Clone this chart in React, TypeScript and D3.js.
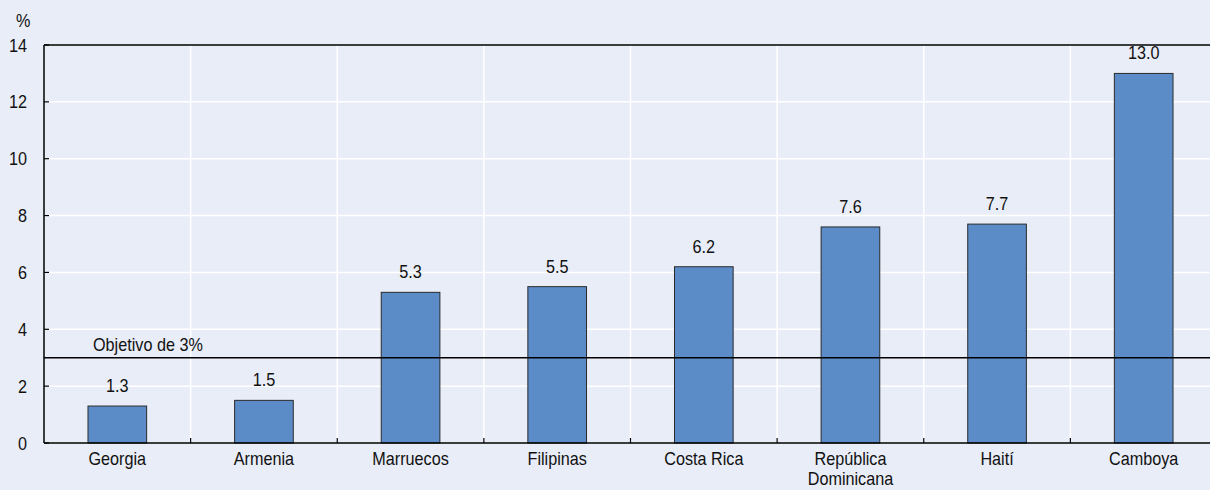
import * as d3 from "d3";
import React, { useRef, useEffect } from "react";

const categories = ["Georgia", "Armenia", "Marruecos", "Filipinas", "Costa Rica", "República\nDominicana", "Haití", "Camboya"];
const values = [1.3, 1.5, 5.3, 5.5, 6.2, 7.6, 7.7, 13.0];
const yTicks = [0, 2, 4, 6, 8, 10, 12, 14];
const target = 3;
const targetLabel = "Objetivo de 3%";

const width = 1210;
const height = 490;
// plot runs a little past the right edge of the picture
const margin = { top: 45, right: -7, bottom: 47, left: 44 };
const font = "'Liberation Sans', Arial, sans-serif";
const fontSize = 18;
const squeeze = 0.9; // reference uses a condensed face

function App() {
  const ref = useRef<SVGSVGElement>(null);

  useEffect(() => {
    const svg = d3.select(ref.current);
    svg.selectAll("*").remove();
    const innerW = width - margin.left - margin.right;
    const innerH = height - margin.top - margin.bottom;

    // condensed text helper
    const label = (sel: any, x: number, y: number, txt: string, anchor = "middle") =>
      sel
        .append("text")
        .attr("transform", `translate(${x},${y}) scale(${squeeze},1)`)
        .attr("text-anchor", anchor)
        .attr("font-family", font)
        .attr("font-size", fontSize)
        .attr("fill", "#111")
        .text(txt);

    svg.append("rect").attr("width", width).attr("height", height).attr("fill", "#E9EDF7");

    const x = d3.scaleBand().domain(categories).range([0, innerW]);
    const y = d3.scaleLinear().domain([0, 14]).range([innerH, 0]);
    const g = svg.append("g").attr("transform", `translate(${margin.left},${margin.top})`);

    // gridlines
    g.selectAll("line.hgrid")
      .data(yTicks.filter((d) => d > 0 && d < 14))
      .enter()
      .append("line")
      .attr("x1", 0)
      .attr("x2", innerW)
      .attr("y1", (d) => y(d))
      .attr("y2", (d) => y(d))
      .attr("stroke", "#fff")
      .attr("stroke-width", 1.5);

    const bounds = categories.slice(1).map((c) => x(c)!);
    g.selectAll("line.vgrid")
      .data(bounds)
      .enter()
      .append("line")
      .attr("x1", (d) => d)
      .attr("x2", (d) => d)
      .attr("y1", 0)
      .attr("y2", innerH)
      .attr("stroke", "#fff")
      .attr("stroke-width", 1.5);

    // bars
    const bw = x.bandwidth() * 0.4;
    g.selectAll("rect.bar")
      .data(values)
      .enter()
      .append("rect")
      .attr("x", (d, i) => x(categories[i])! + (x.bandwidth() - bw) / 2)
      .attr("y", (d) => y(d))
      .attr("width", bw)
      .attr("height", (d) => innerH - y(d))
      .attr("fill", "#5B8CC8")
      .attr("stroke", "#2a2a2a")
      .attr("stroke-width", 1);

    // value labels
    values.forEach((v, i) => {
      label(g, x(categories[i])! + x.bandwidth() / 2, y(v) - 14, v.toFixed(1));
    });

    // target line
    g.append("line")
      .attr("x1", 0)
      .attr("x2", innerW)
      .attr("y1", y(target))
      .attr("y2", y(target))
      .attr("stroke", "#000")
      .attr("stroke-width", 1.5);
    label(g, 49, y(target) - 7, targetLabel, "start");

    // frame: top, left, bottom
    g.append("line").attr("x1", 0).attr("x2", innerW).attr("y1", 0).attr("y2", 0).attr("stroke", "#000").attr("stroke-width", 1.5);
    g.append("line").attr("x1", 0).attr("x2", 0).attr("y1", 0).attr("y2", innerH).attr("stroke", "#000").attr("stroke-width", 1.5);
    g.append("line").attr("x1", 0).attr("x2", innerW).attr("y1", innerH).attr("y2", innerH).attr("stroke", "#000").attr("stroke-width", 1.5);

    // y ticks
    g.selectAll("line.ytick")
      .data(yTicks)
      .enter()
      .append("line")
      .attr("x1", 0)
      .attr("x2", 5)
      .attr("y1", (d) => y(d))
      .attr("y2", (d) => y(d))
      .attr("stroke", "#000")
      .attr("stroke-width", 1.2);
    yTicks.forEach((t) => label(g, -17, y(t) + 6.5, String(t), "end"));
    label(svg, 16, 27, "%", "start");

    // x ticks
    g.selectAll("line.xtick")
      .data(bounds)
      .enter()
      .append("line")
      .attr("x1", (d) => d)
      .attr("x2", (d) => d)
      .attr("y1", innerH)
      .attr("y2", innerH - 5)
      .attr("stroke", "#000")
      .attr("stroke-width", 1.2);

    // x labels
    categories.forEach((c) => {
      const t = label(g, x(c)! + x.bandwidth() / 2, innerH + 22, "");
      c.split("\n").forEach((p, i) => {
        t.append("tspan")
          .attr("x", 0)
          .attr("dy", i === 0 ? 0 : 20)
          .text(p);
      });
    });
  }, []);

  return (
    <div style={{ position: "fixed", left: 0, top: 0 }}>
      <svg ref={ref} width={width} height={height} style={{ display: "block" }}></svg>
    </div>
  );
}

export default App;
